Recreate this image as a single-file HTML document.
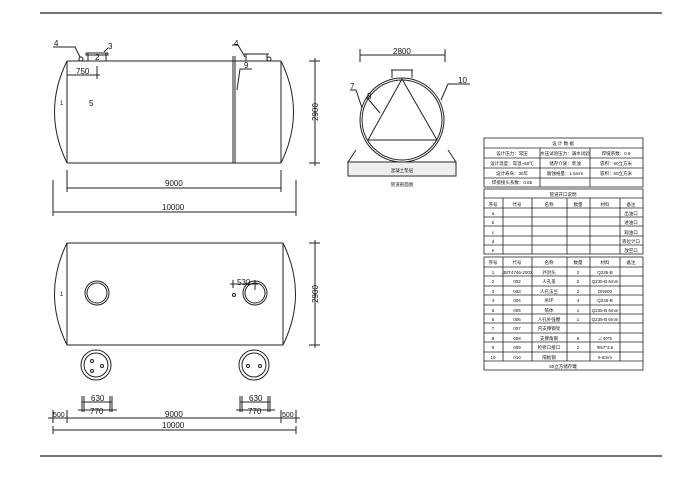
<!DOCTYPE html>
<html><head><meta charset="utf-8"><style>
html,body{margin:0;padding:0;background:#fff;width:700px;height:494px;overflow:hidden}
svg text{font-family:"Liberation Sans","Noto Sans CJK SC",sans-serif;fill:#111}
</style></head><body>
<svg width="700" height="494" viewBox="0 0 700 494" xmlns="http://www.w3.org/2000/svg">
<g stroke="#222" fill="none" stroke-width="1">
<line x1="40" y1="13" x2="662" y2="13" stroke-width="1.3"/>
<line x1="40" y1="456" x2="662" y2="456" stroke-width="1.3"/>
<!-- top tank -->
<line x1="67" y1="61" x2="281" y2="61"/>
<line x1="67" y1="163" x2="281" y2="163"/>
<line x1="67" y1="61" x2="67" y2="163"/>
<line x1="281" y1="61" x2="281" y2="163"/>
<path d="M67 61 Q42 112 67 163"/>
<path d="M281 61 Q306 112 281 163"/>
<line x1="233" y1="56" x2="233" y2="163"/>
<line x1="235" y1="56" x2="235" y2="163"/>
<path d="M86 53 H108 M88 53 V61 M106 53 V61 M86 53 V55 H108 V53"/>
<path d="M244 54 H269 M246 54 V61 M267 54 V61"/>
<circle cx="81" cy="59" r="2"/><circle cx="269" cy="59" r="2"/>
<path d="M53 47 L75 47 L80 57"/><path d="M232 45 L238 45 L245 57"/>
<line x1="104" y1="52" x2="108" y2="48"/>
<path d="M237 90 L240 69 L252 69"/>
<line x1="67" y1="75" x2="100" y2="75"/><line x1="97" y1="66" x2="97" y2="79"/>
<line x1="67" y1="188" x2="281" y2="188"/><line x1="67" y1="170" x2="67" y2="192"/><line x1="281" y1="170" x2="281" y2="192"/>
<line x1="53" y1="212" x2="296" y2="212"/><line x1="53" y1="180" x2="53" y2="216"/><line x1="296" y1="180" x2="296" y2="216"/>
<line x1="315" y1="58" x2="315" y2="166"/><line x1="309" y1="61" x2="320" y2="61"/><line x1="309" y1="163" x2="320" y2="163"/>
<!-- bottom tank -->
<line x1="67" y1="243" x2="283" y2="243"/>
<line x1="67" y1="345" x2="283" y2="345"/>
<line x1="67" y1="243" x2="67" y2="345"/>
<line x1="283" y1="243" x2="283" y2="345"/>
<path d="M67 243 Q42 294 67 345"/>
<path d="M283 243 Q308 294 283 345"/>
<circle cx="97" cy="293" r="12"/><circle cx="97" cy="293" r="10"/>
<circle cx="255" cy="293" r="12"/><circle cx="255" cy="293" r="10"/>
<circle cx="234" cy="295" r="1.5"/>
<line x1="230" y1="284" x2="258" y2="284"/><line x1="233" y1="280" x2="233" y2="288"/><line x1="255" y1="280" x2="255" y2="290"/>
<circle cx="96" cy="365" r="15"/><circle cx="96" cy="365" r="12"/>
<circle cx="92" cy="361" r="1.5"/><circle cx="92" cy="371" r="1.5"/><circle cx="102" cy="366" r="1.5"/>
<circle cx="254" cy="365" r="15"/><circle cx="254" cy="365" r="12"/>
<circle cx="248" cy="366" r="1.5"/><circle cx="260" cy="366" r="1.5"/>
<line x1="82" y1="402" x2="112" y2="402"/><line x1="78" y1="410" x2="117" y2="410"/>
<line x1="82" y1="396" x2="82" y2="412"/><line x1="84" y1="396" x2="84" y2="412"/><line x1="110" y1="396" x2="110" y2="412"/><line x1="112" y1="396" x2="112" y2="412"/>
<line x1="240" y1="402" x2="270" y2="402"/><line x1="236" y1="410" x2="275" y2="410"/>
<line x1="240" y1="396" x2="240" y2="412"/><line x1="242" y1="396" x2="242" y2="412"/><line x1="268" y1="396" x2="268" y2="412"/><line x1="270" y1="396" x2="270" y2="412"/>
<line x1="48" y1="418" x2="300" y2="418"/><line x1="53" y1="410" x2="53" y2="423"/><line x1="67" y1="410" x2="67" y2="423"/><line x1="281" y1="410" x2="281" y2="423"/><line x1="296" y1="410" x2="296" y2="423"/>
<line x1="53" y1="430" x2="296" y2="430"/><line x1="53" y1="426" x2="53" y2="434"/><line x1="296" y1="426" x2="296" y2="434"/>
<line x1="315" y1="240" x2="315" y2="348"/><line x1="309" y1="243" x2="320" y2="243"/><line x1="309" y1="345" x2="320" y2="345"/>
<!-- section -->
<circle cx="402" cy="120" r="42"/><circle cx="402" cy="120" r="40"/>
<path d="M402 79 L368 140 L437 140 Z"/>
<path d="M391 70 H413 M392 70 V78 M412 70 V78"/>
<path d="M356 150 L348 162 H456 V176 H348 V162 M448 150 L456 162"/>
<line x1="360" y1="55" x2="445" y2="55"/><line x1="360" y1="49" x2="360" y2="62"/><line x1="445" y1="49" x2="445" y2="62"/>
<path d="M350 90 L356 90 L362 108"/><path d="M366 98 L369 100 L380 113"/><path d="M441 100 L448 84 L470 84"/>
<!-- tables -->
<g stroke-width="0.8">
<rect x="484" y="138" width="159" height="49"/>
<line x1="484" y1="148" x2="643" y2="148"/><line x1="484" y1="158" x2="643" y2="158"/><line x1="484" y1="168" x2="643" y2="168"/><line x1="484" y1="178" x2="643" y2="178"/>
<line x1="540" y1="148" x2="540" y2="187"/><line x1="590" y1="148" x2="590" y2="187"/>
<rect x="484" y="189" width="159" height="65"/>
<line x1="484" y1="198" x2="643" y2="198"/><line x1="484" y1="208" x2="643" y2="208"/>
<line x1="484" y1="217" x2="643" y2="217"/><line x1="484" y1="226" x2="643" y2="226"/><line x1="484" y1="236" x2="643" y2="236"/><line x1="484" y1="245" x2="643" y2="245"/>
<rect x="484" y="257" width="159" height="113"/>
<line x1="484" y1="267" x2="643" y2="267"/>
<line x1="484" y1="276" x2="643" y2="276"/><line x1="484" y1="286" x2="643" y2="286"/><line x1="484" y1="295" x2="643" y2="295"/><line x1="484" y1="305" x2="643" y2="305"/><line x1="484" y1="314" x2="643" y2="314"/><line x1="484" y1="323" x2="643" y2="323"/><line x1="484" y1="333" x2="643" y2="333"/><line x1="484" y1="342" x2="643" y2="342"/><line x1="484" y1="352" x2="643" y2="352"/><line x1="484" y1="361" x2="643" y2="361"/>
<path d="M503 198V254 M532 198V254 M567 198V254 M590 198V254 M620 198V254"/>
<path d="M503 257V361 M532 257V361 M567 257V361 M590 257V361 M620 257V361"/>
</g>
</g>
<rect x="349" y="163" width="106" height="12" fill="#eee"/>
<g font-size="8">
<text x="54" y="46">4</text><text x="108" y="49">3</text><text x="95" y="60">2</text>
<text x="76" y="74">750</text><text x="60" y="105" font-size="6">1</text><text x="89" y="106">5</text>
<text x="234" y="46">4</text><text x="244" y="68">9</text>
<text x="165" y="186">9000</text><text x="162" y="210">10000</text>
<text transform="translate(318,112) rotate(-90)" text-anchor="middle">2900</text>
<text x="60" y="296" font-size="6">1</text><text x="237" y="285">530</text>
<text x="91" y="401">630</text><text x="90" y="414">770</text>
<text x="249" y="401">630</text><text x="248" y="414">770</text>
<text x="53" y="417" font-size="7">500</text><text x="282" y="417" font-size="7">500</text>
<text x="165" y="417">9000</text><text x="162" y="428">10000</text>
<text transform="translate(318,294) rotate(-90)" text-anchor="middle">2900</text>
<text x="393" y="54">2800</text><text x="350" y="89">7</text><text x="367" y="99">8</text><text x="458" y="83">10</text>
</g>
<g font-size="4.5" text-anchor="middle">
<text x="402" y="172">混凝土垫层</text><text x="402" y="186">管道剖面图</text>
<text x="563" y="145">设 计 数 据</text>
<text x="512" y="155">设计压力：常压</text><text x="565" y="155">水压试验压力：满水试验</text><text x="616" y="155">焊缝系数：0.9</text>
<text x="512" y="165">设计温度：常温~50℃</text><text x="565" y="165">储存介质：柴油</text><text x="616" y="165">容积：60立方米</text>
<text x="512" y="175">设计寿命：30年</text><text x="565" y="175">腐蚀裕量：1.5mm</text><text x="616" y="175">容积：60立方米</text>
<text x="512" y="184">焊接接头系数：0.85</text>
<text x="563" y="196">管道开口说明</text>
<text x="493" y="206">序号</text><text x="517" y="206">代号</text><text x="549" y="206">名称</text><text x="578" y="206">数量</text><text x="605" y="206">材料</text><text x="631" y="206">备注</text>
<text x="493" y="215">a</text><text x="631" y="215">出油口</text>
<text x="493" y="224">b</text><text x="631" y="224">进油口</text>
<text x="493" y="234">c</text><text x="631" y="234">观油口</text>
<text x="493" y="243">d</text><text x="631" y="243">液位计口</text>
<text x="493" y="252">e</text><text x="631" y="252">放空口</text>
<text x="493" y="264">序号</text><text x="517" y="264">代号</text><text x="549" y="264">名称</text><text x="578" y="264">数量</text><text x="605" y="264">材料</text><text x="631" y="264">备注</text>
<text x="493" y="274">1</text><text x="517" y="274">JB/T4746-2002</text><text x="549" y="274">外封头</text><text x="578" y="274">2</text><text x="605" y="274">Q235-B</text>
<text x="493" y="283">2</text><text x="517" y="283">002</text><text x="549" y="283">人孔盖</text><text x="578" y="283">2</text><text x="605" y="283">Q235-B 6mm</text>
<text x="493" y="293">3</text><text x="517" y="293">003</text><text x="549" y="293">人孔法兰</text><text x="578" y="293">2</text><text x="605" y="293">DN600</text>
<text x="493" y="302">4</text><text x="517" y="302">004</text><text x="549" y="302">吊环</text><text x="578" y="302">4</text><text x="605" y="302">Q235-B</text>
<text x="493" y="312">5</text><text x="517" y="312">005</text><text x="549" y="312">筒体</text><text x="578" y="312">1</text><text x="605" y="312">Q235-B 6mm</text>
<text x="493" y="321">6</text><text x="517" y="321">006</text><text x="549" y="321">人孔补强圈</text><text x="578" y="321">1</text><text x="605" y="321">Q235-B 6mm</text>
<text x="493" y="330">7</text><text x="517" y="330">007</text><text x="549" y="330">内支撑钢架</text>
<text x="493" y="340">8</text><text x="517" y="340">008</text><text x="549" y="340">支撑角钢</text><text x="578" y="340">9</text><text x="605" y="340">∠40*5</text>
<text x="493" y="349">9</text><text x="517" y="349">009</text><text x="549" y="349">检修口接口</text><text x="578" y="349">2</text><text x="605" y="349">Φ57*3.5</text>
<text x="493" y="359">10</text><text x="517" y="359">010</text><text x="549" y="359">隔板钢</text><text x="605" y="359">5-6mm</text>
<text x="563" y="368">60立方储存罐</text>
</g>
</svg>
</body></html>
